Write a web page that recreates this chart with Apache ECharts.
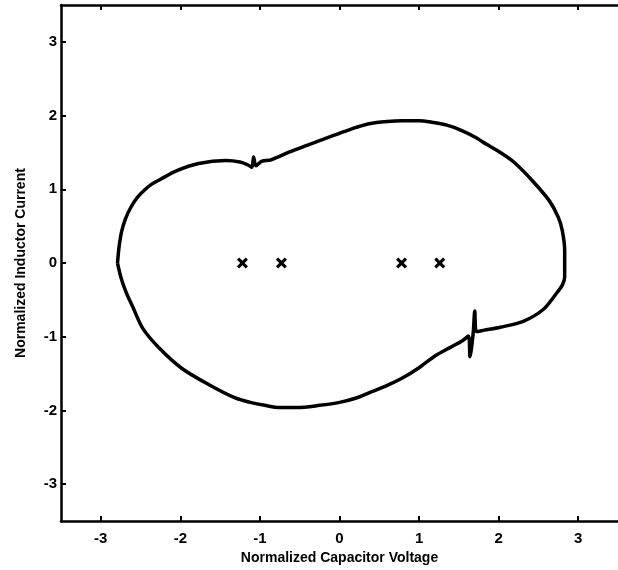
<!DOCTYPE html>
<html>
<head>
<meta charset="utf-8">
<script src="https://cdn.jsdelivr.net/npm/echarts@6/dist/echarts.min.js"></script>
<style>
html,body{margin:0;padding:0;background:#fff;}
#c{width:618px;height:570px;}
</style>
</head>
<body>
<div id="c"></div>
<script>
// Closed phase-plane trajectory (capacitor voltage, inductor current)
var loopX = [-2.79, -2.77, -2.74, -2.69, -2.62, -2.54, -2.45, -2.36, -2.26, -2.05, -1.77, -1.43, -1.25, -1.15, -1.10, -1.08, -1.05, -0.98, -0.86, -0.62, -0.40, -0.20, 0.00, 0.21, 0.37, 0.60, 0.79, 1.00, 1.16, 1.35, 1.53, 1.70, 1.85, 2.02, 2.19, 2.43, 2.64, 2.75, 2.80, 2.83, 2.83, 2.80, 2.72, 2.56, 2.31, 2.02, 1.82, 1.72, 1.70, 1.68, 1.64, 1.62, 1.55, 1.40, 1.20, 1.00, 0.79, 0.58, 0.37, 0.21, 0.00, -0.25, -0.53, -0.75, -0.94, -1.12, -1.31, -1.64, -1.98, -2.26, -2.47, -2.60, -2.68, -2.74, -2.79];
var loopY = [0.00, 0.22, 0.42, 0.60, 0.76, 0.89, 0.99, 1.07, 1.13, 1.25, 1.35, 1.39, 1.37, 1.33, 1.30, 1.44, 1.32, 1.38, 1.40, 1.51, 1.60, 1.68, 1.76, 1.84, 1.89, 1.92, 1.93, 1.93, 1.91, 1.87, 1.80, 1.71, 1.61, 1.50, 1.37, 1.11, 0.84, 0.62, 0.44, 0.17, -0.19, -0.30, -0.42, -0.63, -0.79, -0.87, -0.91, -0.93, -0.65, -0.95, -1.27, -0.99, -1.05, -1.14, -1.26, -1.42, -1.56, -1.67, -1.76, -1.83, -1.89, -1.93, -1.96, -1.96, -1.93, -1.89, -1.83, -1.65, -1.43, -1.16, -0.89, -0.59, -0.40, -0.22, 0.00];
// Equilibrium markers (x)
var markerX = [-1.22, -0.73, 0.78, 1.26];
var markerY = [0, 0, 0, 0];
var xTicks = [-3, -2, -1, 0, 1, 2, 3];
var yTicks = [-3, -2, -1, 0, 1, 2, 3];

var loopData = loopX.map(function (x, i) { return [x, loopY[i]]; });
var markerData = markerX.map(function (x, i) { return [x, markerY[i]]; });

var font = 'Liberation Sans, Arial, sans-serif';
var lab = { color: '#000', fontFamily: font, fontWeight: 'bold', fontSize: 15 };
var tick = { show: true, inside: true, length: 5, lineStyle: { color: '#000', width: 2 } };

var chart = echarts.init(document.getElementById('c'), null, { renderer: 'canvas' });
chart.setOption({
  animation: false,
  backgroundColor: '#fff',
  grid: { left: 61, right: -10, top: 5, height: 522 },
  xAxis: [{
    type: 'value', min: -3.5, max: 3.5, position: 'bottom',
    name: 'Normalized Capacitor Voltage', nameLocation: 'middle', nameGap: 29,
    nameTextStyle: { color: '#000', fontFamily: font, fontWeight: 'bold', fontSize: 14 },
    axisLine: { show: true, onZero: false, lineStyle: { color: '#000', width: 2.5 } },
    axisTick: Object.assign({ customValues: xTicks }, tick),
    axisLabel: Object.assign({ margin: 10, customValues: xTicks }, lab),
    splitLine: { show: false }
  }, {
    type: 'value', min: -3.5, max: 3.5, position: 'top',
    axisLine: { show: true, onZero: false, lineStyle: { color: '#000', width: 2.5 } },
    axisTick: Object.assign({ customValues: xTicks }, tick),
    axisLabel: { show: false },
    splitLine: { show: false }
  }],
  yAxis: [{
    type: 'value', min: -3.5, max: 3.5, position: 'left',
    name: 'Normalized Inductor Current', nameLocation: 'middle', nameGap: 33,
    nameTextStyle: { color: '#000', fontFamily: font, fontWeight: 'bold', fontSize: 14 },
    axisLine: { show: true, onZero: false, lineStyle: { color: '#000', width: 2.5 } },
    axisTick: Object.assign({ customValues: yTicks }, tick),
    axisLabel: Object.assign({ margin: 4, customValues: yTicks }, lab),
    splitLine: { show: false }
  }],
  series: [{
    type: 'line',
    data: loopData,
    showSymbol: false,
    smooth: 0.3,
    lineStyle: { color: '#000', width: 3.5 },
    z: 3
  }, {
    type: 'scatter',
    data: markerData,
    symbol: 'path://M0,2L2,0L5,3L8,0L10,2L7,5L10,8L8,10L5,7L2,10L0,8L3,5Z',
    symbolSize: 11,
    itemStyle: { color: '#000', opacity: 1 },
    z: 4
  }]
});
</script>
</body>
</html>
